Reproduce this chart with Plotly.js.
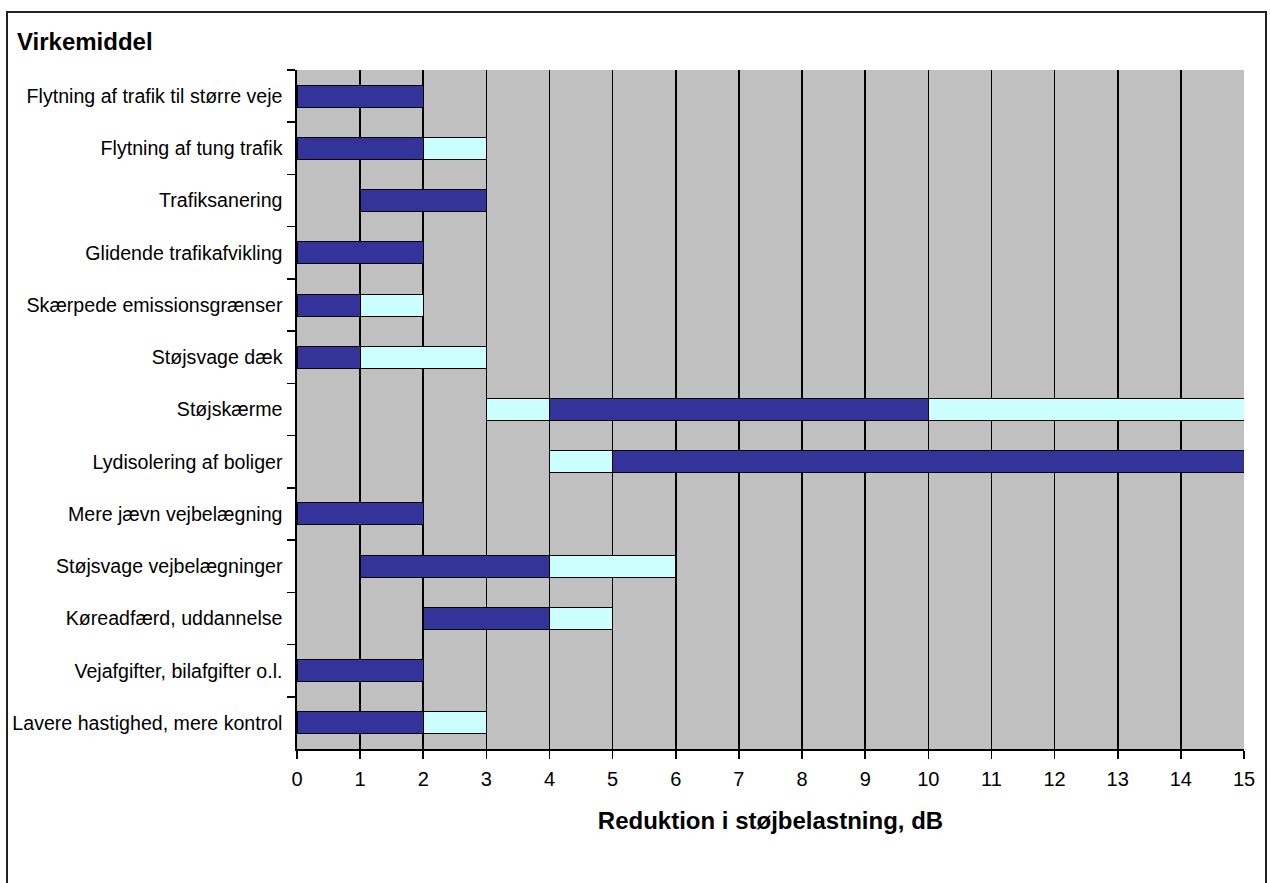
<!DOCTYPE html>
<html>
<head>
<meta charset="utf-8">
<script src="https://cdn.plot.ly/plotly-3.0.1.min.js"></script>
<style>
  html, body { margin: 0; padding: 0; background: #fff; }
  #frame { position: absolute; left: 6px; top: 11px; width: 1261px; height: 900px; border: 2px solid #222; box-sizing: border-box; }
  #chart { position: absolute; left: 0; top: 0; width: 1270px; height: 883px; }
</style>
</head>
<body>
<div id="frame"></div>
<div id="chart"></div>
<script>
const categories = [
  "Flytning af trafik til større veje",
  "Flytning af tung trafik",
  "Trafiksanering",
  "Glidende trafikafvikling",
  "Skærpede emissionsgrænser",
  "Støjsvage dæk",
  "Støjskærme",
  "Lydisolering af boliger",
  "Mere jævn vejbelægning",
  "Støjsvage vejbelægninger",
  "Køreadfærd, uddannelse",
  "Vejafgifter, bilafgifter o.l.",
  "Lavere hastighed, mere kontrol"
];
// invisible offset, light segment before, dark segment, light segment after (dB)
const offset     = [0, 0, 1, 0, 0, 0, 3, 4, 0, 1, 2, 0, 0];
const lightLow   = [0, 0, 0, 0, 0, 0, 1, 1, 0, 0, 0, 0, 0];
const darkRange  = [2, 2, 2, 2, 1, 1, 6, 10, 2, 3, 2, 2, 2];
const lightHigh  = [0, 1, 0, 0, 1, 2, 5, 0, 0, 2, 1, 0, 1];
const xTicks = [0,1,2,3,4,5,6,7,8,9,10,11,12,13,14,15];

const DARK = "#333399", LIGHT = "#CCFFFF";
const barW = 0.42;
function seg(vals, color, visibleLine) {
  return {
    type: "bar", orientation: "h", y: categories, x: vals, width: barW,
    marker: { color: color, line: { color: visibleLine ? "#000" : "rgba(0,0,0,0)", width: visibleLine ? 1 : 0 } },
    hoverinfo: "skip", showlegend: false
  };
}
const data = [
  seg(offset, "rgba(0,0,0,0)", false),
  seg(lightLow, LIGHT, true),
  seg(darkRange, DARK, true),
  seg(lightHigh, LIGHT, true)
];

const layout = {
  width: 1270, height: 883,
  margin: { l: 297, r: 26, t: 70, b: 134, autoexpand: false },
  paper_bgcolor: "rgba(0,0,0,0)",
  plot_bgcolor: "#C0C0C0",
  barmode: "stack",
  font: { family: "Arial, 'Liberation Sans', sans-serif", size: 20, color: "#000" },
  title: {
    text: "<b>Virkemiddel</b>",
    xref: "container", yref: "container",
    x: 17/1270, xanchor: "left",
    y: 1 - 42/883, yanchor: "middle",
    font: { size: 24, color: "#000" }
  },
  xaxis: {
    range: [0, 15], tickvals: xTicks, ticktext: xTicks.map(String),
    showgrid: true, gridcolor: "#000", gridwidth: 1.6,
    zeroline: false,
    showline: true, linecolor: "#000", linewidth: 1.6,
    ticks: "outside", ticklen: 8, tickcolor: "#000", tickwidth: 1.6,
    tickfont: { size: 20 },
    ticklabelstandoff: 3,
    title: { text: "<b>Reduktion i støjbelastning, dB</b>", font: { size: 24 }, standoff: 23 },
    automargin: false, fixedrange: true
  },
  yaxis: {
    type: "category", autorange: "reversed",
    showgrid: false, zeroline: false,
    showline: true, linecolor: "#000", linewidth: 1.6,
    ticks: "outside", ticklen: 8, tickcolor: "#000", tickwidth: 1.6,
    tickson: "boundaries",
    tickfont: { size: 19.6 },
    ticklabelstandoff: 9,
    automargin: false, fixedrange: true
  }
};
Plotly.newPlot("chart", data, layout, { staticPlot: true, displayModeBar: false });
</script>
</body>
</html>
